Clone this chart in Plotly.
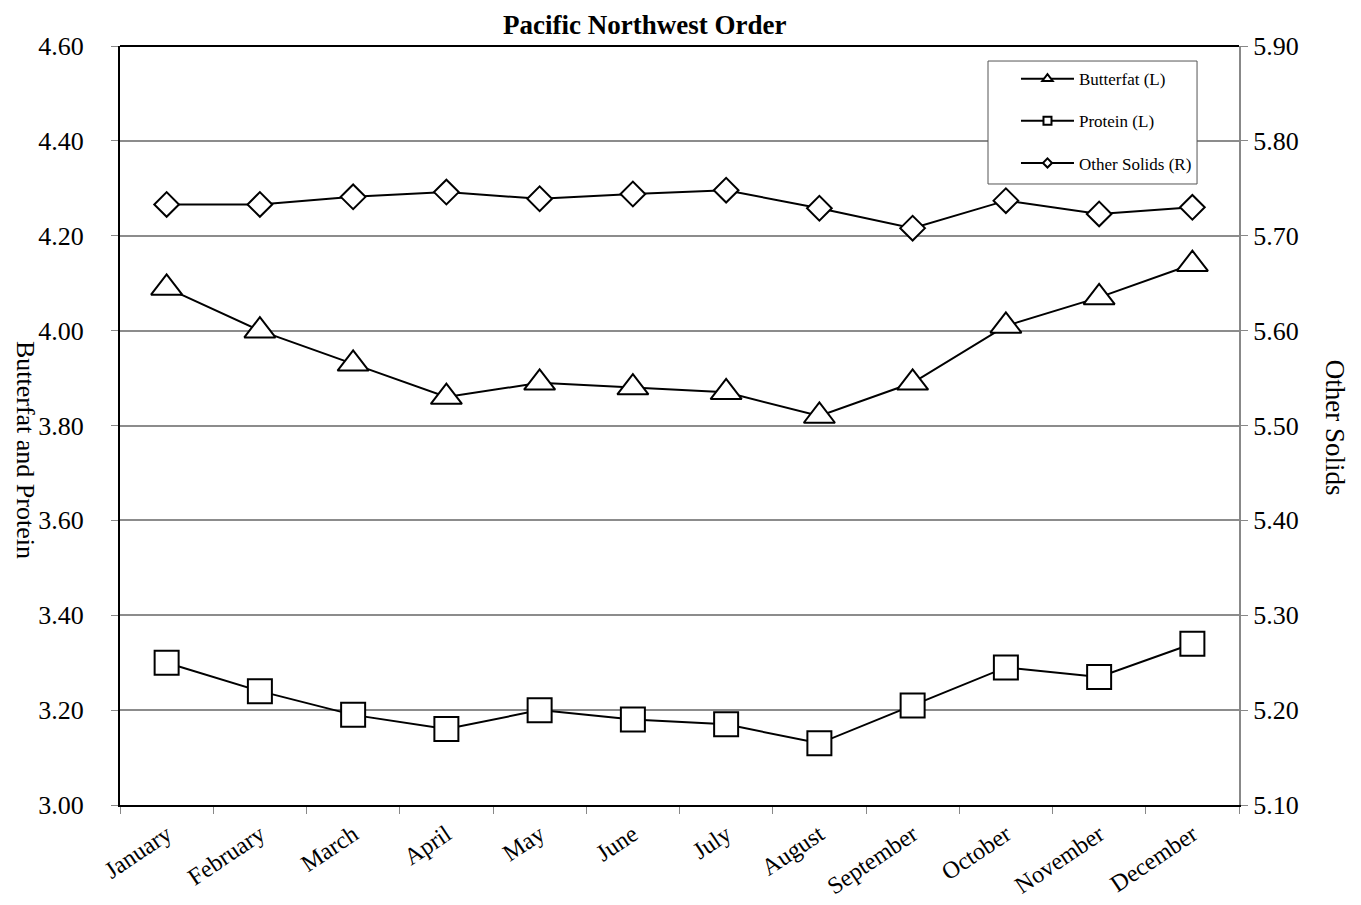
import plotly.graph_objects as go

months = ["January", "February", "March", "April", "May", "June", "July",
          "August", "September", "October", "November", "December"]
butterfat = [4.09, 4.00, 3.93, 3.86, 3.89, 3.88, 3.87, 3.82, 3.89, 4.01, 4.07, 4.14]
protein = [3.30, 3.24, 3.19, 3.16, 3.20, 3.18, 3.17, 3.13, 3.21, 3.29, 3.27, 3.34]
other_solids = [5.733, 5.733, 5.741, 5.746, 5.739, 5.744, 5.748, 5.729, 5.708, 5.737, 5.723, 5.730]

left_ticks = [3.00, 3.20, 3.40, 3.60, 3.80, 4.00, 4.20, 4.40, 4.60]
right_ticks = [5.10, 5.20, 5.30, 5.40, 5.50, 5.60, 5.70, 5.80, 5.90]

FONT = "Liberation Serif, Times New Roman, serif"
line = dict(color="black", width=2)

fig = go.Figure()

series = [
    ("Butterfat (L)", butterfat, "triangle-up", 27, "y", 9),
    ("Protein (L)", protein, "square", 24, "y", 8),
    ("Other Solids (R)", other_solids, "diamond", 19, "y2", 7),
]

for name, vals, sym, size, yax, lsize in series:
    fig.add_trace(go.Scatter(
        x=months, y=vals, mode="lines+markers", name=name, yaxis=yax,
        line=line, showlegend=False, legendgroup=name,
        marker=dict(symbol=sym, size=size, color="white",
                    line=dict(color="black", width=2)),
        cliponaxis=False,
    ))
    # legend entry with small marker
    fig.add_trace(go.Scatter(
        x=[None], y=[None], mode="lines+markers", name=name, yaxis=yax,
        line=line, legendgroup=name, showlegend=True,
        marker=dict(symbol=sym, size=lsize, color="white",
                    line=dict(color="black", width=2)),
    ))

fig.update_layout(
    width=1361, height=905,
    margin=dict(l=112, r=130, t=38, b=108),
    paper_bgcolor="white", plot_bgcolor="white",
    font=dict(family=FONT, color="black", size=26),
    title=dict(text="<b>Pacific Northwest Order</b>", xref="paper", x=0.469,
               xanchor="center", yref="container", y=0.982, yanchor="middle",
               font=dict(family=FONT, size=27)),
    xaxis=dict(
        type="category", range=[-0.5, 11.5], tickson="boundaries",
        ticks="outside", ticklen=7, tickcolor="#888", tickwidth=1,
        tickangle=-34, tickfont=dict(family=FONT, size=24),
        ticklabelstandoff=4,
        showline=True, linecolor="black", linewidth=2, mirror=False,
        showgrid=False,
    ),
    yaxis=dict(
        range=[3.0, 4.6], tickvals=left_ticks,
        ticktext=[f"{v:.2f}" for v in left_ticks],
        ticks="outside", ticklen=7, tickcolor="#888",
        tickfont=dict(family=FONT, size=26),
        ticklabelstandoff=22,
        showline=True, linecolor="black", linewidth=2,
        showgrid=True, gridcolor="#8c8c8c", gridwidth=2, zeroline=False,
    ),
    yaxis2=dict(
        range=[5.1, 5.9], tickvals=right_ticks,
        ticktext=[f"{v:.2f}" for v in right_ticks],
        overlaying="y", side="right",
        ticks="outside", ticklen=7, tickcolor="#888",
        tickfont=dict(family=FONT, size=26),
        showline=True, linecolor="#888", linewidth=2,
        showgrid=False, zeroline=False,
    ),
    legend=dict(
        x=0.8007, y=0.980, xanchor="left", yanchor="top",
        bgcolor="rgba(0,0,0,0)", borderwidth=0,
        font=dict(family=FONT, size=17),
        traceorder="grouped", tracegroupgap=17,
        itemwidth=53,
    ),
    shapes=[
        dict(type="line", xref="paper", yref="paper", x0=0, x1=1, y0=1, y1=1,
             line=dict(color="black", width=2)),
        dict(type="rect", xref="paper", yref="paper", layer="above",
             x0=0.7757, x1=0.9625, y0=0.8182, y1=0.9802,
             fillcolor="white", line=dict(color="#555", width=1)),
    ],
    annotations=[
        dict(text="Butterfat and Protein", xref="paper", yref="paper",
             x=-0.085, y=0.468, textangle=90, showarrow=False,
             font=dict(family=FONT, size=26), xanchor="center", yanchor="middle"),
        dict(text="Other Solids", xref="paper", yref="paper",
             x=1.0858, y=0.497, textangle=90, showarrow=False,
             font=dict(family=FONT, size=27), xanchor="center", yanchor="middle"),
    ],
)

fig.write_html("out.html")
